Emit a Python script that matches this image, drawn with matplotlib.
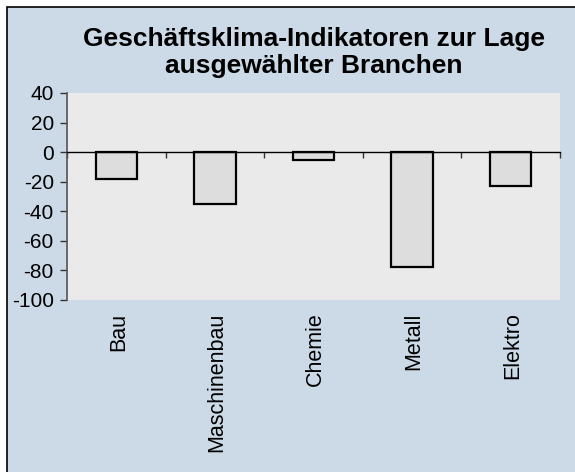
import matplotlib.pyplot as plt
import matplotlib.patches as patches

branchen = ['Bau', 'Maschinenbau', 'Chemie', 'Metall', 'Elektro']
werte = [-18, -35, -5, -78, -23]
y_ticks = [40, 20, 0, -20, -40, -60, -80, -100]

plt.rcParams['font.family'] = ['Liberation Sans', 'DejaVu Sans']

W, H = 575, 472
fig = plt.figure(figsize=(W / 100, H / 100), dpi=100)
fig.patch.set_facecolor('white')

# Hintergrund mit Rahmen (rechts und unten abgeschnitten)
rahmen = patches.Rectangle((6.5 / W, -0.1), 1.2, 1 - 6.5 / H + 0.1,
                           transform=fig.transFigure, facecolor='#CCDAE7',
                           edgecolor='black', linewidth=1.2, zorder=0)
fig.patches.append(rahmen)

ax = fig.add_axes([67 / W, (H - 300) / H, 493 / W, 207 / H])
ax.set_zorder(2)
ax.set_facecolor('#EAEAEA')

x = range(len(branchen))
ax.bar(x, werte, width=0.42, color='#DDDDDD', edgecolor='black', linewidth=1.6, zorder=3)

ax.set_xlim(-0.5, len(branchen) - 0.5)
ax.set_ylim(-100, 40)
ax.set_yticks(y_ticks)
ax.set_yticklabels([str(v) for v in y_ticks], fontsize=15)
ax.tick_params(axis='y', direction='out', length=5, width=1, pad=4.5, color='#333333')

# x-Achse auf Nulllinie, Striche zwischen den Kategorien
ax.spines['bottom'].set_position(('data', 0))
ax.spines['bottom'].set_linewidth(1)
ax.spines['bottom'].set_zorder(4)
ax.set_xticks([i - 0.5 for i in range(len(branchen) + 1)])
ax.set_xticklabels([])
ax.tick_params(axis='x', direction='out', length=4, width=1, color='#333333')
ax.spines['left'].set_color('#555555')
ax.spines['left'].set_linewidth(1.2)
ax.spines['top'].set_visible(False)
ax.spines['right'].set_visible(False)

for i, name in enumerate(branchen):
    ax.text(i + 0.02, -0.06, name, transform=ax.get_xaxis_transform(),
            rotation=90, ha='center', va='top', fontsize=15.5)

fig.text(0.546, (H - 52.5) / H, 'Geschäftsklima-Indikatoren zur Lage\nausgewählter Branchen',
         ha='center', va='center', fontsize=19, fontweight='bold', linespacing=1.12,
         zorder=3)

plt.savefig('out.png', dpi=100)
plt.close()
